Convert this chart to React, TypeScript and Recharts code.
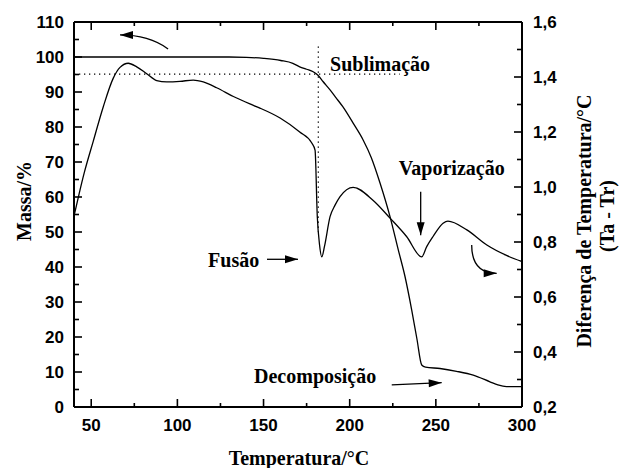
import React from 'react';
import { ComposedChart, Line, XAxis, YAxis, ReferenceLine, ReferenceDot, Label } from 'recharts';

// ---- data ----
const massTemps = [40, 100, 130, 140, 150, 160, 167, 171, 175, 178.8, 181.6, 184.5, 188.6, 192, 196, 202, 207.8, 212.5, 217.6, 223.4, 228.2, 232, 236, 239, 241.8, 244, 252.4, 262, 271.7, 281.4, 286, 291, 300];
const massValues = [100, 100, 100, 99.9, 99.6, 99.0, 98.2, 97.2, 96.5, 95.8, 94.8, 93.0, 90.6, 88.4, 85.8, 81.1, 76.3, 71.3, 64.0, 54.4, 44.9, 37.5, 27.7, 19.5, 12.0, 11.4, 11.0, 10.2, 9.1, 7.2, 6.3, 5.8, 5.8];

const dtaTemps = [40, 43, 46, 51.2, 57, 62.8, 66.7, 71.5, 76.4, 82.2, 88, 93.8, 101.5, 109.2, 115, 122.8, 132.5, 142.1, 147.9, 159.6, 171, 178, 179.9, 181.2, 182.5, 183.8, 185.4, 188.6, 191.5, 194.4, 202, 213.5, 223.4, 233, 241.8, 244.7, 248.4, 254.2, 257, 268, 279.6, 290.7, 300];
const dtaValues = [0.894, 0.976, 1.053, 1.167, 1.292, 1.396, 1.435, 1.450, 1.437, 1.412, 1.387, 1.382, 1.384, 1.389, 1.382, 1.361, 1.329, 1.302, 1.287, 1.251, 1.200, 1.160, 1.134, 0.892, 0.790, 0.746, 0.785, 0.892, 0.934, 0.965, 0.999, 0.952, 0.887, 0.820, 0.746, 0.783, 0.820, 0.868, 0.876, 0.844, 0.789, 0.752, 0.729];

const xTicks = [50, 75, 100, 125, 150, 175, 200, 225, 250, 275, 300];
const massTicks = [0, 5, 10, 15, 20, 25, 30, 35, 40, 45, 50, 55, 60, 65, 70, 75, 80, 85, 90, 95, 100, 105, 110];
const dtaTicks = [0.2, 0.3, 0.4, 0.5, 0.6, 0.7, 0.8, 0.9, 1.0, 1.1, 1.2, 1.3, 1.4, 1.5, 1.6];

// guide lines (dotted) in data coords
const sublimationTemp = 181.8;
const sublimationMass = 95.1;
const hGuideEndTemp = 229;
const vGuideTop = 103;
const vGuideBottom = 50;

// annotations: [label, temp, mass, anchor]
const annotations: [string, number, number, string][] = [
  ['Sublimação', 188.6, 96.1, 'start'],
  ['Vaporização', 259.2, 66.3, 'middle'],
  ['Fusão', 147.5, 39.9, 'end'],
  ['Decomposição', 144.5, 6.8, 'start'],
];

// arrows: [startTemp, startMass, endTemp, endMass, bend(null = straight)]
const arrows: [number, number, number, number, number | null][] = [
  [94.6, 102.3, 66.7, 106.3, 0.4],
  [270.8, 46.3, 285.3, 38.2, 0],
  [241.2, 61.5, 241.2, 49.1, null],
  [152.0, 42.2, 170.0, 42.2, null],
  [224.4, 6.3, 253.4, 6.95, null],
];

const massData = massTemps.map((t, i) => ({ t, v: massValues[i] }));
const dtaData = dtaTemps.map((t, i) => ({ t, v: dtaValues[i] }));

const SANS = 'Liberation Sans, Arial, sans-serif';
const SERIF = 'Liberation Serif, Times New Roman, serif';

const X_MARGIN = 24;
const L_MARGIN = 10;
const R_MARGIN = 11;

const BottomTick = (props: any) => {
  const { x, y, payload } = props;
  const v = payload.value;
  const major = v % 50 === 0;
  const base = y - X_MARGIN;
  return (
    <g>
      <line x1={x} x2={x} y1={base} y2={base - (major ? 8 : 4)} stroke="#000" strokeWidth={1.6} />
      {major && (
        <text x={x} y={y} textAnchor="middle" fontFamily={SANS} fontWeight="bold" fontSize={17} fill="#000">
          {v}
        </text>
      )}
    </g>
  );
};

const TopTick = (props: any) => {
  const { x, y, payload } = props;
  const major = payload.value % 50 === 0;
  return <line x1={x} x2={x} y1={y} y2={y + (major ? 8 : 4)} stroke="#000" strokeWidth={1.6} />;
};

const LeftTick = (props: any) => {
  const { x, y, payload } = props;
  const v = payload.value;
  const major = v % 10 === 0;
  const base = x + L_MARGIN;
  return (
    <g>
      <line x1={base} x2={base + (major ? 8 : 5)} y1={y} y2={y} stroke="#000" strokeWidth={1.6} />
      {major && (
        <text x={x} y={y + 6} textAnchor="end" fontFamily={SANS} fontWeight="bold" fontSize={17} fill="#000">
          {v}
        </text>
      )}
    </g>
  );
};

const RightTick = (props: any) => {
  const { x, y, payload } = props;
  const v = payload.value;
  const major = Math.round(v * 10) % 2 === 0;
  const base = x - R_MARGIN;
  return (
    <g>
      <line x1={base} x2={base - (major ? 8 : 5)} y1={y} y2={y} stroke="#000" strokeWidth={1.6} />
      {major && (
        <text x={x} y={y + 6} textAnchor="start" fontFamily={SANS} fontWeight="bold" fontSize={17} fill="#000">
          {v.toFixed(1).replace('.', ',')}
        </text>
      )}
    </g>
  );
};

const headPoints = (x: number, y: number, dx: number, dy: number) => {
  const len = Math.hypot(dx, dy) || 1;
  const ux = dx / len;
  const uy = dy / len;
  const L = 13;
  const W = 4;
  const bx = x - ux * L;
  const by = y - uy * L;
  return `${x},${y} ${bx - uy * W},${by + ux * W} ${bx + uy * W},${by - ux * W}`;
};

const makeArrow = (bend: number | null) => (props: any) => {
  const { x1, y1, x2, y2 } = props;
  if (bend === null) {
    return (
      <g>
        <line x1={x1} y1={y1} x2={x2} y2={y2} stroke="#000" strokeWidth={1.3} />
        <polygon points={headPoints(x2, y2, x2 - x1, y2 - y1)} fill="#000" />
      </g>
    );
  }
  const cx = x1 + (x2 - x1) * bend;
  const cy = y2;
  return (
    <g>
      <path d={`M${x1},${y1} Q${cx},${cy} ${x2},${y2}`} fill="none" stroke="#000" strokeWidth={1.3} />
      <polygon points={headPoints(x2, y2, x2 - cx, y2 - cy)} fill="#000" />
    </g>
  );
};

const makeText = (label: string, anchor: string) => (props: any) => (
  <text x={props.cx} y={props.cy} textAnchor={anchor} fontFamily={SERIF} fontWeight="bold" fontSize={20} fill="#000">
    {label}
  </text>
);

export default function App() {
  return (
    <div style={{ position: 'absolute', left: 0, top: 0, width: 619, height: 468, background: '#fff' }}>
      <ComposedChart width={619} height={468} margin={{ top: 0, right: 0, bottom: 0, left: 0 }}>
        <XAxis
          xAxisId="b"
          type="number"
          dataKey="t"
          domain={[40, 300]}
          ticks={xTicks}
          interval={0}
          height={61}
          tickSize={0}
          tickMargin={X_MARGIN}
          tickLine={false}
          tick={<BottomTick />}
          axisLine={{ stroke: '#000', strokeWidth: 2 }}
          allowDataOverflow
        >
          <Label
            content={(p: any) => {
              const vb = p.viewBox || { x: 74, y: 407, width: 448, height: 61 };
              return (
                <text x={vb.x + vb.width / 2 + 1} y={vb.y + 58} textAnchor="middle" fontFamily={SERIF} fontWeight="bold" fontSize={20} fill="#000">
                  Temperatura/°C
                </text>
              );
            }}
          />
        </XAxis>
        <XAxis
          xAxisId="top"
          orientation="top"
          type="number"
          dataKey="t"
          domain={[40, 300]}
          ticks={xTicks}
          interval={0}
          height={22}
          tickSize={0}
          tickMargin={0}
          tickLine={false}
          tick={<TopTick />}
          axisLine={{ stroke: '#000', strokeWidth: 2 }}
          allowDataOverflow
        />
        <YAxis
          yAxisId="m"
          type="number"
          domain={[0, 110]}
          ticks={massTicks}
          interval={0}
          width={74}
          tickSize={0}
          tickMargin={L_MARGIN}
          tickLine={false}
          tick={<LeftTick />}
          axisLine={{ stroke: '#000', strokeWidth: 2 }}
          allowDataOverflow
        >
          <Label
            content={(p: any) => {
              const vb = p.viewBox || { x: 0, y: 22, width: 74, height: 385 };
              const cx = vb.x + 31;
              const cy = vb.y + 179;
              return (
                <text x={cx} y={cy} transform={`rotate(-90 ${cx} ${cy})`} textAnchor="middle" fontFamily={SERIF} fontWeight="bold" fontSize={20} fill="#000">
                  Massa/%
                </text>
              );
            }}
          />
        </YAxis>
        <YAxis
          yAxisId="d"
          orientation="right"
          type="number"
          domain={[0.2, 1.6]}
          ticks={dtaTicks}
          interval={0}
          width={97}
          tickSize={0}
          tickMargin={R_MARGIN}
          tickLine={false}
          tick={<RightTick />}
          axisLine={{ stroke: '#000', strokeWidth: 2 }}
          allowDataOverflow
        >
          <Label
            content={(p: any) => {
              const vb = p.viewBox || { x: 522, y: 22, width: 97, height: 385 };
              const x1 = vb.x + 69;
              const y1 = vb.y + 199;
              const x2 = vb.x + 92;
              const y2 = vb.y + 194;
              return (
                <g>
                  <text x={x1} y={y1} transform={`rotate(-90 ${x1} ${y1})`} textAnchor="middle" fontFamily={SERIF} fontWeight="bold" fontSize={20} fill="#000">
                    Diferença de Temperatura/°C
                  </text>
                  <text x={x2} y={y2} transform={`rotate(-90 ${x2} ${y2})`} textAnchor="middle" fontFamily={SERIF} fontWeight="bold" fontSize={20} fill="#000">
                    (Ta - Tr)
                  </text>
                </g>
              );
            }}
          />
        </YAxis>

        <ReferenceLine
          xAxisId="b"
          yAxisId="m"
          segment={[{ x: 40, y: sublimationMass }, { x: hGuideEndTemp, y: sublimationMass }]}
          stroke="#000"
          strokeWidth={1.3}
          strokeDasharray="1.3 3.7"
          ifOverflow="visible"
        />
        <ReferenceLine
          xAxisId="b"
          yAxisId="m"
          segment={[{ x: sublimationTemp, y: vGuideTop }, { x: sublimationTemp, y: vGuideBottom }]}
          stroke="#000"
          strokeWidth={1.3}
          strokeDasharray="1.3 3.7"
          ifOverflow="visible"
        />

        <Line
          xAxisId="b"
          yAxisId="m"
          data={massData}
          dataKey="v"
          type="monotone"
          stroke="#000"
          strokeWidth={1.3}
          dot={false}
          activeDot={false}
          isAnimationActive={false}
        />
        <Line
          xAxisId="b"
          yAxisId="d"
          data={dtaData}
          dataKey="v"
          type="monotone"
          stroke="#000"
          strokeWidth={1.3}
          dot={false}
          activeDot={false}
          isAnimationActive={false}
        />

        {arrows.map((a, i) => (
          <ReferenceLine
            key={`arrow-${i}`}
            xAxisId="b"
            yAxisId="m"
            segment={[{ x: a[0], y: a[1] }, { x: a[2], y: a[3] }]}
            ifOverflow="visible"
            shape={makeArrow(a[4])}
          />
        ))}

        {annotations.map((a, i) => (
          <ReferenceDot
            key={`ann-${i}`}
            xAxisId="b"
            yAxisId="m"
            x={a[1]}
            y={a[2]}
            r={0}
            ifOverflow="visible"
            shape={makeText(a[0], a[3])}
          />
        ))}
      </ComposedChart>
    </div>
  );
}
